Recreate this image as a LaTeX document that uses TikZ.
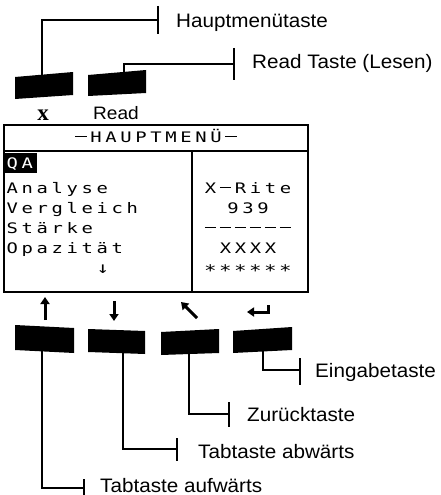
\documentclass[tikz,border=0pt]{standalone}
\usepackage{fontspec}
\usetikzlibrary{arrows.meta}
\newfontfamily\labelfont{Liberation Sans}[FakeStretch=1.06]
\newfontfamily\lcdfont{DejaVu Sans Mono}[FakeStretch=1.3]
\newfontfamily\keyfont{Liberation Serif}

% fixed-pitch LCD text: every character sits in its own cell, '-' becomes a wide bar
\newlength\lcdpitch
\setlength\lcdpitch{15pt}
\def\lcdstr#1{\lcdnext#1\relax}
\def\lcdnext#1{\ifx\relax#1\else\lcdput{#1}\expandafter\lcdnext\fi}
\def\lcdput#1{\makebox[\lcdpitch]{\ifx-#1\rule[4.6pt]{11.5pt}{1.2pt}\else#1\fi}}

\tikzset{
  keycap/.style={fill=black},
  leader/.style={line width=1.3pt},
  tick/.style={line width=1.1pt},
  callout/.style={font=\labelfont\fontsize{19.5}{22}\selectfont, inner sep=0pt, anchor=base west},
  lcd/.style={font=\lcdfont\fontsize{14.5}{16}\selectfont, inner sep=0pt},
  screenline/.style={line width=2pt},
  keyarrow/.style={line width=3pt, -{Triangle[length=7pt,width=9pt]}},
}

\begin{document}
\begin{tikzpicture}[x=1pt,y=-1pt]
\useasboundingbox (0,0) rectangle (441,495);

% ---- upper keys ----
\fill[keycap] (15,77) -- (73,72) -- (73,95) -- (15,99) -- cycle;
\fill[keycap] (88,75) -- (146,70) -- (146,93) -- (88,96) -- cycle;
\coordinate (menukey) at (42,75);
\coordinate (readkey) at (124,72);
\node[inner sep=0pt, anchor=base] (xlabel) at (43,120) {\keyfont\fontsize{23}{23}\selectfont\bfseries x};
\node[inner sep=0pt, anchor=base west, font=\labelfont\fontsize{18}{20}\selectfont] (readlabel) at (93,119) {Read};

% callouts of the upper keys
\coordinate (menubend) at (42,20);
\coordinate (menuend) at (158,20);
\draw[leader] (menukey) -- (menubend) -- (menuend);
\draw[tick] (158,6) -- (158,34);
\node[callout] (menutext) at (176,28) {Hauptmenütaste};

\coordinate (readbend) at (124,64);
\coordinate (readend) at (234,64);
\draw[leader] (readkey) -- (readbend) -- (readend);
\draw[tick] (234,48) -- (234,80);
\node[callout] (readtext) at (252,68) {Read Taste (Lesen)};

% ---- display ----
\draw[screenline] (4,125) rectangle (308,292);
\draw[screenline] (4,151) -- (308,151);
\draw[screenline] (192,151) -- (192,292);

\node[lcd, anchor=base] (title) at (156,142) {\lcdstr{-HAUPTMENÜ-}};

\fill (5,153) rectangle (37,173);
\node[lcd, anchor=base west, text=white] (qa) at (4.5,168) {\lcdstr{QA}};
\node[lcd, anchor=base west] (analyse) at (4.5,193) {\lcdstr{Analyse}};
\node[lcd, anchor=base west] (vergleich) at (4.5,213) {\lcdstr{Vergleich}};
\node[lcd, anchor=base west] (staerke) at (4.5,233) {\lcdstr{Stärke}};
\node[lcd, anchor=base west] (opaz) at (4.5,253) {\lcdstr{Opazität}};
\node[lcd, anchor=base, font=\lcdfont\fontsize{16}{16}\selectfont] (more) at (103,273) {↓};

\node[lcd, anchor=base] (brand) at (248,193) {\lcdstr{X-Rite}};
\node[lcd, anchor=base] (model) at (248,213) {\lcdstr{939}};
\node[lcd, anchor=base] (rule) at (248,233) {\lcdstr{------}};
\node[lcd, anchor=base] (code) at (248,253) {\lcdstr{XXXX}};
\node[lcd, anchor=base, font=\lcdfont\fontsize{16}{16}\selectfont] (stars) at (248,276) {\lcdstr{******}};

% ---- arrow symbols above the lower keys ----
\coordinate (upA) at (45,320);   \coordinate (upB) at (45,297);
\coordinate (dnA) at (114,301);  \coordinate (dnB) at (114,321);
\coordinate (bkA) at (197,318);  \coordinate (bkB) at (181,302);
\coordinate (enA) at (268,305);  \coordinate (enK) at (268,312);
\coordinate (enB) at (247,312);
\draw[keyarrow] (upA) -- (upB);
\draw[keyarrow] (dnA) -- (dnB);
\draw[keyarrow] (bkA) -- (bkB);
\draw[line width=3pt, -{Triangle[length=7pt,width=9pt]}] (enA) -- (enK) -- (enB);

% ---- lower keys ----
\fill[keycap] (15,325) -- (74,328) -- (74,353) -- (15,350) -- cycle;
\fill[keycap] (88,329) -- (145,331) -- (145,354) -- (88,352) -- cycle;
\fill[keycap] (161,332) -- (219,329) -- (219,353) -- (161,355) -- cycle;
\fill[keycap] (233,331) -- (292,327) -- (292,350) -- (233,353) -- cycle;
\coordinate (k1) at (42,351);
\coordinate (k2) at (123,353);
\coordinate (k3) at (189,354);
\coordinate (k4) at (263,351);

% callouts of the lower keys
\coordinate (k4bend) at (263,370);  \coordinate (k4end) at (300,370);
\draw[leader] (k4) -- (k4bend) -- (k4end);
\draw[tick] (300,358) -- (300,385);
\node[callout] (k4text) at (315,377) {Eingabetaste};

\coordinate (k3bend) at (189,414);  \coordinate (k3end) at (229,414);
\draw[leader] (k3) -- (k3bend) -- (k3end);
\draw[tick] (229,402) -- (229,427);
\node[callout] (k3text) at (247,421) {Zurücktaste};

\coordinate (k2bend) at (123,449);  \coordinate (k2end) at (177,449);
\draw[leader] (k2) -- (k2bend) -- (k2end);
\draw[tick] (177,438) -- (177,461);
\node[callout] (k2text) at (198,458) {Tabtaste abwärts};

\coordinate (k1bend) at (42,488);  \coordinate (k1end) at (84,488);
\draw[leader] (k1) -- (k1bend) -- (k1end);
\draw[tick] (84,479) -- (84,495);
\node[callout] (k1text) at (100,492) {Tabtaste aufwärts};
\end{tikzpicture}
\end{document}
